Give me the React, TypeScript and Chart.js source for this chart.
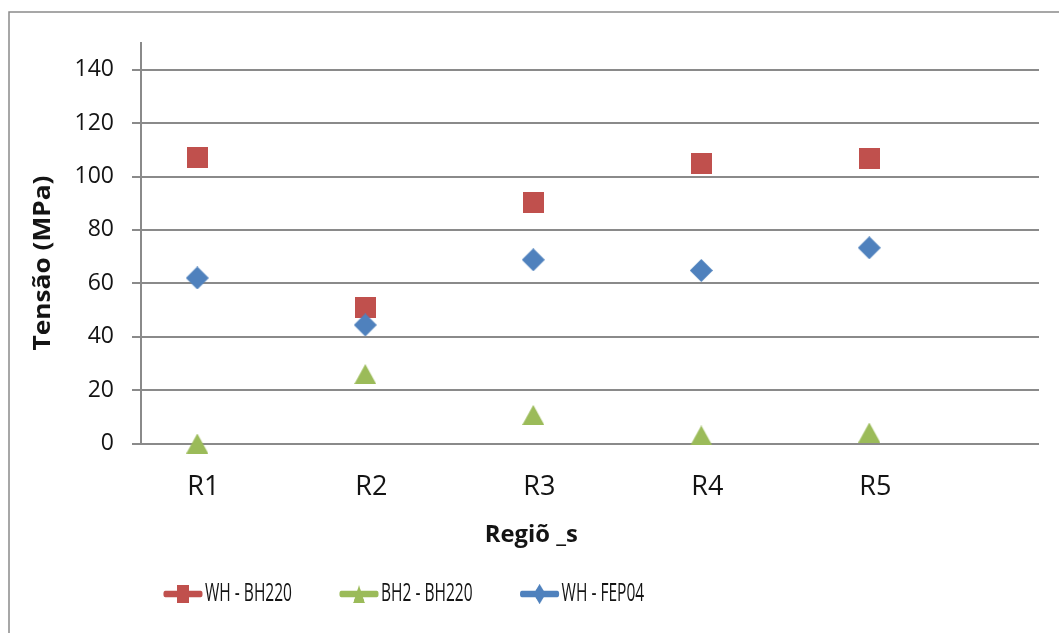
import React, { useEffect, useRef } from 'react';
import { Chart, registerables } from 'chart.js';

Chart.register(...registerables);

// Regions on the horizontal axis
const categories = ['R1', 'R2', 'R3', 'R4', 'R5'];

// Stress (MPa) per region, one array per welded pair
const whBh220 = [107, 51, 90.3, 105, 106.6];
const bh2Bh220 = [0, 26, 10.7, 3, 4.1];
const whFep04 = [62, 44.4, 68.8, 64.8, 73.3];

const seriesNames = ['WH - BH220', 'BH2 - BH220', 'WH - FEP04'];
const yTicks = [0, 20, 40, 60, 80, 100, 120, 140];
const yTitle = 'Tensão (MPa)';
const xTitle = 'Regiõ _s';

const RED = '#C0504D';
const GREEN = '#9BBB59';
const BLUE = '#4F81BD';
const GRID = '#8a8a8a';
const TEXT = '#141414';
const FONT = '"Open Sans", "Noto Sans", sans-serif';

type Shape = 'square' | 'diamond' | 'triangle';

function makeMarker(shape: Shape, color: string, w: number, h: number) {
  const c = document.createElement('canvas');
  c.width = w;
  c.height = h;
  const g = c.getContext('2d')!;
  g.fillStyle = color;
  g.beginPath();
  if (shape === 'square') {
    g.rect(0, 0, w, h);
  } else if (shape === 'diamond') {
    g.moveTo(w / 2, 0);
    g.lineTo(w, h / 2);
    g.lineTo(w / 2, h);
    g.lineTo(0, h / 2);
    g.closePath();
  } else {
    g.moveTo(w / 2, 0);
    g.lineTo(w, h);
    g.lineTo(0, h);
    g.closePath();
  }
  g.fill();
  return c;
}

function drawFitted(
  ctx: CanvasRenderingContext2D,
  text: string,
  cx: number,
  cy: number,
  width: number,
  font: string,
  rotate: boolean
) {
  ctx.save();
  ctx.font = font;
  const w = ctx.measureText(text).width;
  ctx.translate(cx, cy);
  if (rotate) ctx.rotate(-Math.PI / 2);
  ctx.scale(width / w, 1);
  ctx.fillStyle = TEXT;
  ctx.textAlign = 'center';
  ctx.textBaseline = 'middle';
  ctx.fillText(text, 0, 0);
  ctx.restore();
}

// Outer frame of the chart object
const framePlugin = {
  id: 'frame',
  beforeDraw(chart: any) {
    const ctx = chart.ctx as CanvasRenderingContext2D;
    ctx.save();
    ctx.strokeStyle = GRID;
    ctx.lineWidth = 1.5;
    ctx.strokeRect(9, 12, chart.width + 20, chart.height + 20);
    ctx.restore();
  },
};

// Axis titles
const titlesPlugin = {
  id: 'axisTitles',
  afterDraw(chart: any) {
    const ctx = chart.ctx as CanvasRenderingContext2D;
    const xs = chart.scales.x;
    drawFitted(ctx, yTitle, 43, 263, 175, `bold 23px ${FONT}`, true);
    drawFitted(ctx, xTitle, xs.getPixelForValue(3) - 2, 535, 93, `bold 23px ${FONT}`, false);
  },
};

// Legend with line + marker samples, set in a narrow face
const legendPlugin = {
  id: 'lineLegend',
  afterDraw(chart: any) {
    const ctx = chart.ctx as CanvasRenderingContext2D;
    ctx.save();
    ctx.font = `26px ${FONT}`;
    const firstW = ctx.measureText(chart.data.datasets[0].label).width;
    const sx = 87 / firstW;
    const lineLen = 40 / sx;
    const gap = 2 / sx;
    const itemGap = 47 / sx;
    const cy = 594;
    let x = 163;
    chart.data.datasets.forEach((ds: any) => {
      const label = ds.label as string;
      const tw = ctx.measureText(label).width;
      ctx.save();
      ctx.translate(x, cy);
      ctx.scale(sx, 1);
      ctx.strokeStyle = ds.borderColor;
      ctx.lineWidth = 6.5;
      ctx.lineCap = 'round';
      ctx.beginPath();
      ctx.moveTo(4, 0);
      ctx.lineTo(lineLen - 4, 0);
      ctx.stroke();
      const img = ds.pointStyle as HTMLCanvasElement;
      const k = 0.88;
      ctx.drawImage(img, lineLen / 2 - (img.width * k) / 2, -(img.height * k) / 2, img.width * k, img.height * k);
      ctx.fillStyle = TEXT;
      ctx.textAlign = 'left';
      ctx.textBaseline = 'middle';
      ctx.fillText(label, lineLen + gap, 0);
      ctx.restore();
      x += (lineLen + gap + tw + itemGap) * sx;
    });
    ctx.restore();
  },
};

export default function App() {
  const ref = useRef<HTMLCanvasElement>(null);

  useEffect(() => {
    const square = makeMarker('square', RED, 21, 21);
    const triangle = makeMarker('triangle', GREEN, 22, 20);
    const diamond = makeMarker('diamond', BLUE, 23, 23);

    const toPoints = (vals: number[]) => vals.map((v, i) => ({ x: i + 1, y: v }));

    const chart = new Chart(ref.current!, {
      type: 'scatter',
      data: {
        datasets: [
          {
            label: seriesNames[0],
            data: toPoints(whBh220),
            pointStyle: square as any,
            pointRadius: 11,
            backgroundColor: RED,
            borderColor: RED,
            order: 2,
            clip: false,
          },
          {
            label: seriesNames[1],
            data: toPoints(bh2Bh220),
            pointStyle: triangle as any,
            pointRadius: 11,
            backgroundColor: GREEN,
            borderColor: GREEN,
            order: 1,
            clip: false,
          },
          {
            label: seriesNames[2],
            data: toPoints(whFep04),
            pointStyle: diamond as any,
            pointRadius: 11,
            backgroundColor: BLUE,
            borderColor: BLUE,
            order: 0,
            clip: false,
          },
        ],
      },
      options: {
        responsive: false,
        animation: false,
        events: [],
        layout: { padding: { left: 0, top: 43, right: 20, bottom: 0 } },
        plugins: { legend: { display: false }, tooltip: { enabled: false } },
        scales: {
          x: {
            type: 'linear',
            min: 0.665,
            max: 6.01,
            afterBuildTicks: (s: any) => {
              s.ticks = categories.map((_, i) => ({ value: i + 1 }));
            },
            afterFit: (s: any) => {
              s.height = 633 - 443.5;
            },
            ticks: {
              callback: (v: any) => categories[Number(v) - 1] ?? '',
              font: { family: FONT, size: 27 },
              color: TEXT,
              padding: 28,
              labelOffset: 6,
              maxRotation: 0,
              autoSkip: false,
            },
            grid: { display: false, drawTicks: false },
            border: { display: false },
          },
          y: {
            min: 0,
            max: 150,
            afterBuildTicks: (s: any) => {
              s.ticks = yTicks.map((v) => ({ value: v }));
            },
            afterFit: (s: any) => {
              s.width = 141;
            },
            ticks: {
              font: { family: FONT, size: 23 },
              color: TEXT,
              padding: 18,
            },
            grid: { color: GRID, lineWidth: 2, tickLength: 9, drawTicks: true },
            border: { color: GRID, width: 2 },
          },
        },
      },
      plugins: [framePlugin, titlesPlugin, legendPlugin],
    });

    return () => chart.destroy();
  }, []);

  return (
    <div style={{ position: 'fixed', left: 0, top: 0, width: 1059, height: 633, background: '#fff' }}>
      <canvas ref={ref} width={1059} height={633} />
    </div>
  );
}
